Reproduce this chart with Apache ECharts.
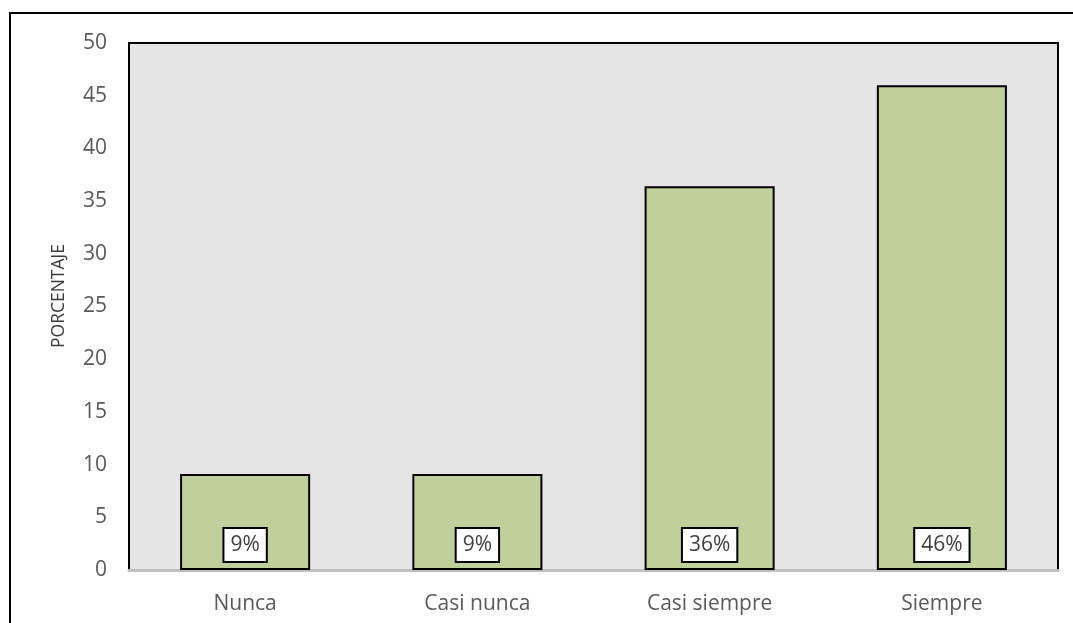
<!DOCTYPE html>
<html>
<head>
<meta charset="utf-8">
<script src="https://cdn.jsdelivr.net/npm/echarts@6/dist/echarts.min.js"></script>
<style>
  html, body { margin: 0; padding: 0; background: #ffffff; }
  #chart { width: 1073px; height: 623px; }
</style>
</head>
<body>
<div id="chart"></div>
<script>
// Survey answers and their share of respondents (percent)
const categories = ['Nunca', 'Casi nunca', 'Casi siempre', 'Siempre'];
const percentages = [9.1, 9.1, 36.4, 46];
const yTicks = { min: 0, max: 50, interval: 5 };
const yAxisTitle = 'PORCENTAJE';

const FONT = '"Open Sans", "Noto Sans", sans-serif';
const chart = echarts.init(document.getElementById('chart'), null, { renderer: 'canvas' });

chart.setOption({
  animation: false,
  backgroundColor: '#ffffff',
  textStyle: { fontFamily: FONT },
  graphic: [
    // outer frame of the chart
    {
      type: 'rect', z: -10,
      shape: { x: 10, y: 13, width: 1100, height: 700 },
      style: { fill: 'none', stroke: '#000000', lineWidth: 2 }
    },
    // vertical axis title
    {
      type: 'text',
      x: 59, y: 296,
      rotation: Math.PI / 2,
      style: {
        text: yAxisTitle,
        fill: '#3a3a3a',
        font: '17.5px ' + FONT,
        align: 'center',
        verticalAlign: 'middle'
      }
    }
  ],
  grid: {
    left: 129, right: 15, top: 43, bottom: 53,
    show: true,
    backgroundColor: '#e5e5e5',
    borderColor: '#000000',
    borderWidth: 2
  },
  xAxis: {
    type: 'category',
    data: categories,
    axisLine: { show: true, lineStyle: { color: '#bfbfbf', width: 3 } },
    axisTick: { show: false },
    axisLabel: { color: '#595959', fontSize: 21, margin: 24, fontFamily: FONT }
  },
  yAxis: {
    type: 'value',
    min: yTicks.min, max: yTicks.max, interval: yTicks.interval,
    axisLine: { show: false },
    axisTick: { show: false },
    splitLine: { show: false },
    axisLabel: { color: '#595959', fontSize: 21, margin: 22, fontFamily: FONT }
  },
  series: [{
    type: 'bar',
    data: percentages,
    barWidth: '56%',
    itemStyle: { color: '#bfd09a', borderColor: '#000000', borderWidth: 2 },
    label: {
      show: true,
      position: 'insideBottom',
      distance: 9,
      formatter: p => Math.round(p.value) + '%',
      color: '#404040',
      fontSize: 21,
      fontFamily: FONT,
      backgroundColor: '#ffffff',
      borderColor: '#000000',
      borderWidth: 2,
      padding: [6, 6, 5, 6]
    }
  }]
});
</script>
</body>
</html>
